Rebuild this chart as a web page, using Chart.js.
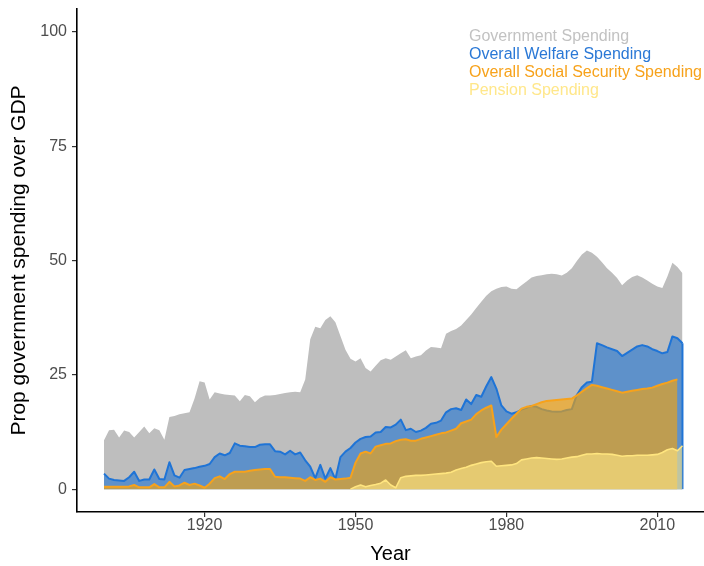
<!DOCTYPE html>
<html>
<head>
<meta charset="utf-8">
<script src="https://cdn.jsdelivr.net/npm/chart.js@4/dist/chart.umd.min.js"></script>
<style>
  html, body { margin: 0; padding: 0; background: #ffffff; }
  #wrap { position: relative; width: 704px; height: 566px; }
</style>
</head>
<body>
<div id="wrap"><canvas id="chart" width="704" height="566"></canvas></div>
<script>
// Yearly shares of GDP (percent)
const YEARS = [
  1900,1901,1902,1903,1904,1905,1906,1907,1908,1909,
  1910,1911,1912,1913,1914,1915,1916,1917,1918,1919,
  1920,1921,1922,1923,1924,1925,1926,1927,1928,1929,
  1930,1931,1932,1933,1934,1935,1936,1937,1938,1939,
  1940,1941,1942,1943,1944,1945,1946,1947,1948,1949,
  1950,1951,1952,1953,1954,1955,1956,1957,1958,1959,
  1960,1961,1962,1963,1964,1965,1966,1967,1968,1969,
  1970,1971,1972,1973,1974,1975,1976,1977,1978,1979,
  1980,1981,1982,1983,1984,1985,1986,1987,1988,1989,
  1990,1991,1992,1993,1994,1995,1996,1997,1998,1999,
  2000,2001,2002,2003,2004,2005,2006,2007,2008,2009,
  2010,2011,2012,2013,2014,2015
];

const GOVERNMENT = [
  10.7,12.9,13.0,11.3,12.8,12.5,11.3,12.5,13.7,12.2,
  13.3,12.9,10.8,15.8,16.0,16.4,16.6,16.8,19.8,23.6,
  23.3,19.6,21.2,20.9,20.7,20.6,20.5,19.2,20.6,20.3,
  19.0,20.0,20.5,20.5,20.6,20.8,21.0,21.2,21.3,21.2,
  24.0,32.8,35.5,35.2,37.0,37.8,36.5,33.5,30.5,28.5,
  27.9,28.6,26.5,25.7,27.0,28.2,28.6,28.3,29.0,29.7,
  30.4,28.6,29.0,29.3,30.3,31.1,31.0,30.8,34.0,34.6,
  35.0,35.8,37.0,38.2,39.6,41.0,42.3,43.3,43.8,44.2,
  44.3,43.8,43.7,44.6,45.4,46.3,46.6,46.8,47.0,47.1,
  47.0,46.7,47.3,48.3,49.9,51.3,52.2,51.7,50.8,49.6,
  48.3,47.3,46.2,44.6,45.6,46.4,46.8,46.3,45.6,44.9,
  44.3,44.0,46.5,49.5,48.6,47.2
];

const WELFARE = [
  3.4,2.3,2.0,1.9,1.8,2.6,3.8,1.8,2.1,2.1,
  4.3,2.2,2.1,5.9,3.0,2.5,4.2,4.4,4.6,4.9,
  5.1,5.5,7.0,7.8,7.4,7.9,10.0,9.5,9.4,9.2,
  9.2,9.7,9.8,9.8,8.3,8.2,7.6,8.4,7.6,8.0,
  6.3,4.9,2.4,5.3,2.3,4.6,2.2,7.0,8.2,9.0,
  10.2,11.0,11.4,11.5,12.4,12.5,13.6,13.5,14.1,15.2,
  12.9,13.2,12.5,12.8,13.4,14.3,14.5,15.0,16.8,17.5,
  17.7,17.3,19.6,18.6,20.6,20.2,22.5,24.5,22.0,18.3,
  17.0,16.5,16.8,17.4,17.8,18.2,18.0,17.5,17.2,17.0,
  16.9,17.0,17.3,17.5,20.6,22.3,23.3,23.5,31.9,31.5,
  31.0,30.6,30.2,29.1,29.8,30.5,31.2,31.5,31.2,30.6,
  30.2,29.7,30.0,33.4,33.0,31.9
];

const SOCIAL_SECURITY = [
  0.5,0.5,0.5,0.5,0.5,0.6,0.9,0.4,0.4,0.4,
  1.1,0.4,0.4,1.6,0.6,0.8,1.4,0.9,1.2,0.8,
  0.3,1.2,2.4,2.8,2.2,3.3,3.8,3.8,3.8,4.0,
  4.2,4.3,4.4,4.4,2.7,2.6,2.6,2.5,2.4,2.3,
  1.8,2.6,2.0,2.3,1.6,2.6,2.1,2.2,2.3,2.5,
  5.8,7.8,8.2,7.8,9.3,9.6,9.9,10.0,10.5,10.8,
  10.9,10.6,10.6,11.0,11.3,11.6,11.9,12.2,12.4,12.8,
  13.2,14.4,14.8,15.2,16.4,17.2,17.8,18.3,11.4,13.0,
  14.2,15.4,16.5,17.6,18.0,18.2,18.6,19.0,19.3,19.4,
  19.5,19.6,19.7,19.8,20.5,21.3,22.1,22.8,22.6,22.3,
  22.0,21.7,21.4,21.1,21.3,21.5,21.7,21.9,22.0,22.2,
  22.6,23.0,23.3,23.7,24.0,null
];

const PENSION = [
  null,null,null,null,null,null,null,null,null,null,
  null,null,null,null,null,null,null,null,null,null,
  null,null,null,null,null,null,null,null,null,null,
  null,null,null,null,null,null,null,null,null,null,
  null,null,null,null,null,null,null,null,null,0.0,
  0.5,0.9,0.5,0.8,1.0,1.3,2.0,0.9,0.3,2.5,
  2.8,2.9,3.0,3.0,3.1,3.2,3.3,3.4,3.5,3.7,
  4.2,4.5,4.8,5.2,5.5,5.8,6.0,6.1,5.0,5.1,
  5.2,5.3,5.6,6.4,6.6,6.8,6.9,6.8,6.7,6.6,
  6.5,6.6,6.8,7.0,7.1,7.4,7.7,7.7,7.8,7.7,
  7.7,7.6,7.4,7.2,7.3,7.3,7.4,7.4,7.4,7.5,
  7.6,8.0,8.6,8.9,8.4,9.5
];

const X_TICKS = [1920, 1950, 1980, 2010];
const Y_TICKS = [0, 25, 50, 75, 100];

const SERIES_NAMES = [
  'Government Spending',
  'Overall Welfare Spending',
  'Overall Social Security Spending',
  'Pension Spending'
];

const FONT = '"Liberation Sans", Arial, Helvetica, sans-serif';
const LEGEND_COLORS = ['#c2c2c2', '#2a78d6', '#f7a21b', '#ffe78a'];
const WELFARE_LINE = '#1f74d6';

function points(values) {
  return YEARS.map((yr, i) => ({ x: yr, y: values[i] })).filter(p => p.y !== null);
}

// Text legend in the upper right of the plot
const textLegend = {
  id: 'textLegend',
  afterDraw(chart) {
    const ctx = chart.ctx;
    ctx.save();
    ctx.font = '16px ' + FONT;
    ctx.textAlign = 'left';
    ctx.textBaseline = 'middle';
    SERIES_NAMES.forEach((name, i) => {
      ctx.fillStyle = LEGEND_COLORS[i];
      ctx.fillText(name, 469, 37 + i * 17.8);
    });
    ctx.restore();
  }
};

// Outline the closing edge of the welfare area at its last year
const welfareEdge = {
  id: 'welfareEdge',
  afterDatasetDraw(chart, args) {
    if (args.index !== 1) return;
    const pts = points(WELFARE);
    const last = pts[pts.length - 1];
    const xs = chart.scales.x, ys = chart.scales.y;
    const ctx = chart.ctx;
    ctx.save();
    ctx.strokeStyle = WELFARE_LINE;
    ctx.lineWidth = 2;
    ctx.beginPath();
    ctx.moveTo(xs.getPixelForValue(last.x), ys.getPixelForValue(last.y));
    ctx.lineTo(xs.getPixelForValue(last.x), ys.getPixelForValue(0));
    ctx.stroke();
    ctx.restore();
  }
};

const axisGrid = { display: true, drawOnChartArea: false, drawTicks: true, tickLength: 5, color: '#333333', lineWidth: 1.2 };
const axisBorder = { display: true, color: '#000000', width: 1.6 };

new Chart(document.getElementById('chart'), {
  type: 'line',
  data: {
    datasets: [
      {
        label: SERIES_NAMES[0],
        data: points(GOVERNMENT),
        borderColor: 'rgba(0,0,0,0)',
        borderWidth: 0,
        backgroundColor: '#bebebe',
        fill: 'origin',
        order: 4
      },
      {
        label: SERIES_NAMES[1],
        data: points(WELFARE),
        borderColor: WELFARE_LINE,
        borderWidth: 2,
        backgroundColor: 'rgba(30,115,210,0.6)',
        fill: 'origin',
        order: 3
      },
      {
        label: SERIES_NAMES[2],
        data: points(SOCIAL_SECURITY),
        borderColor: '#f7a21b',
        borderWidth: 2,
        backgroundColor: 'rgba(255,165,0,0.6)',
        fill: 'origin',
        order: 2
      },
      {
        label: SERIES_NAMES[3],
        data: points(PENSION),
        borderColor: '#ffe57f',
        borderWidth: 1.6,
        backgroundColor: 'rgba(255,232,135,0.6)',
        fill: 'origin',
        order: 1
      }
    ]
  },
  options: {
    responsive: false,
    animation: false,
    events: [],
    elements: {
      point: { radius: 0 },
      line: { tension: 0, borderJoinStyle: 'round' }
    },
    layout: { padding: { top: 9, right: 0, left: 0, bottom: 0 } },
    plugins: {
      legend: { display: false },
      tooltip: { enabled: false },
      filler: { propagate: false }
    },
    scales: {
      x: {
        type: 'linear',
        min: 1894.63,
        max: 2019.28,
        afterBuildTicks: s => { s.ticks = X_TICKS.map(v => ({ value: v })); },
        afterFit: s => { s.height = 54; s.paddingLeft = 0; s.paddingRight = 0; },
        grid: axisGrid,
        border: axisBorder,
        ticks: {
          color: '#4d4d4d',
          font: { family: FONT, size: 16, lineHeight: 1 },
          padding: 1,
          maxRotation: 0,
          autoSkip: false,
          callback: v => String(v)
        },
        title: {
          display: true,
          text: 'Year',
          color: '#000000',
          font: { family: FONT, size: 20 },
          padding: { top: 0, bottom: 0 }
        }
      },
      y: {
        type: 'linear',
        min: -5,
        max: 105,
        afterBuildTicks: s => { s.ticks = Y_TICKS.map(v => ({ value: v })); },
        afterFit: s => { s.width = 77; s.paddingTop = 0; s.paddingBottom = 0; },
        grid: axisGrid,
        border: axisBorder,
        ticks: {
          color: '#4d4d4d',
          font: { family: FONT, size: 16 },
          padding: 5,
          callback: v => String(v)
        },
        title: {
          display: true,
          text: 'Prop government spending over GDP',
          color: '#000000',
          font: { family: FONT, size: 21 },
          padding: { top: 7, bottom: 0 }
        }
      }
    }
  },
  plugins: [textLegend, welfareEdge]
});
</script>
</body>
</html>
